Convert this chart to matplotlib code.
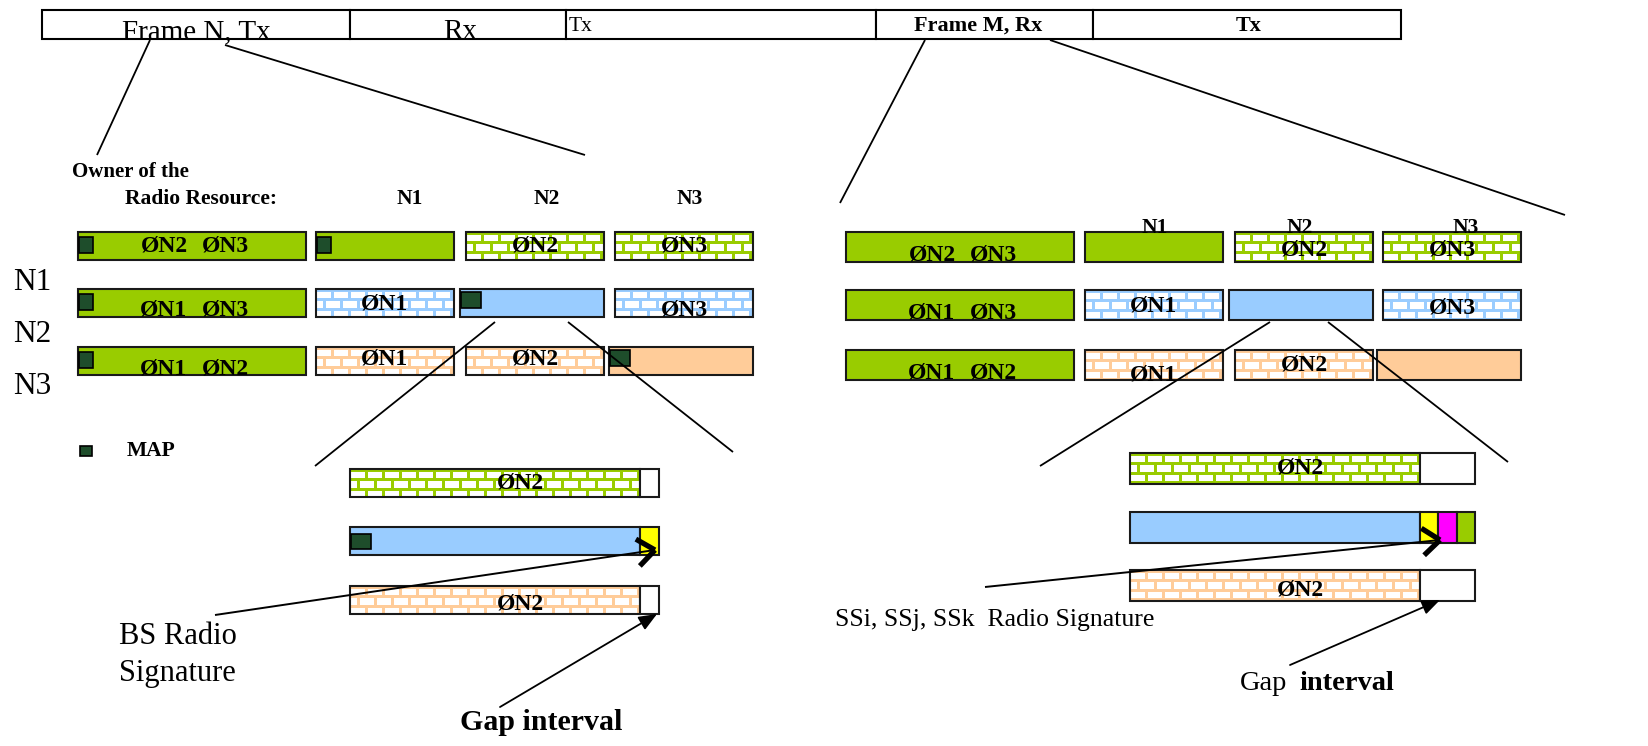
import matplotlib
matplotlib.use('Agg')
import numpy as np
import matplotlib.pyplot as plt
from matplotlib.patches import Rectangle, FancyArrowPatch
from matplotlib.collections import PatchCollection

plt.rcParams['font.family'] = ['Liberation Serif', 'DejaVu Serif']

# ---------- content ----------
frame_cells = ['Frame N, Tx', 'Rx', 'Tx', 'Frame M, Rx', 'Tx']
frame_edges = [42, 350, 566, 876, 1093, 1401]
row_names = ['N1', 'N2', 'N3']
owners = ['N1', 'N2', 'N3']
node_colors = ['#99CC00', '#99CCFF', '#FFCC99']
first_col_labels = [['ØN2', 'ØN3'], ['ØN1', 'ØN3'], ['ØN1', 'ØN2']]
cell_labels = [['', 'ØN2', 'ØN3'],
               ['ØN1', '', 'ØN3'],
               ['ØN1', 'ØN2', '']]
signature_colors = ['#FFFF00', '#FF00FF', '#99CC00']
map_color = '#1E4D2B'

fig = plt.figure(figsize=(16.48, 7.46), dpi=100)
ax = fig.add_axes([0, 0, 1, 1])
ax.set_xlim(0, 1648)
ax.set_ylim(746, 0)
ax.axis('off')

EDGE = '#1a1a1a'


def solid_box(x, y, w, h, color, lw=1.5):
    ax.add_patch(Rectangle((x, y), w, h, facecolor=color, edgecolor=EDGE, lw=lw))


def brick_box(x, y, w, h, color, bw=17, rh=9.3, gap=3.0):
    ax.add_patch(Rectangle((x, y), w, h, facecolor=color, edgecolor='none'))
    clip = Rectangle((x, y), w, h, transform=ax.transData)
    bricks = []
    yy = y + gap
    k = 0
    while yy < y + h:
        xx = x + (0 if k % 2 == 0 else -bw / 2) + gap / 2
        while xx < x + w:
            bricks.append(Rectangle((xx, yy), bw - gap, rh - gap))
            xx += bw
        yy += rh
        k += 1
    pc = PatchCollection(bricks, facecolor='white', edgecolor='none')
    pc.set_clip_path(clip)
    ax.add_collection(pc)
    ax.add_patch(Rectangle((x, y), w, h, facecolor='none', edgecolor=EDGE, lw=1.5))


def map_mark(x, y, w=14, h=16):
    ax.add_patch(Rectangle((x, y), w, h, facecolor=map_color, edgecolor='black', lw=1.2))


def line(p, q, lw=1.3):
    ax.plot([p[0], q[0]], [p[1], q[1]], color='black', lw=lw, solid_capstyle='butt')


def open_arrow(p, q, size=22, ang=38):
    line(p, q, lw=1.4)
    d = np.array(q, float) - np.array(p, float)
    d /= np.hypot(*d)
    for s in (1, -1):
        a = np.radians(s * ang)
        r = np.array([d[0] * np.cos(a) - d[1] * np.sin(a),
                      d[0] * np.sin(a) + d[1] * np.cos(a)])
        e = np.array(q) - size * r
        ax.plot([q[0], e[0]], [q[1], e[1]], color='black', lw=3.8,
                solid_capstyle='butt')


def filled_arrow(p, q):
    ax.add_patch(FancyArrowPatch(p, q, arrowstyle='-|>,head_length=11,head_width=4.5',
                                 mutation_scale=1, lw=1.3, color='black',
                                 shrinkA=0, shrinkB=0))


def label(x, y, s, size=17, weight='bold', ha='center', va='center'):
    ax.text(x, y, s, fontsize=size, fontweight=weight, ha=ha, va=va)


# ---------- frame bar ----------
for i in range(len(frame_cells)):
    x0, x1 = frame_edges[i], frame_edges[i + 1]
    ax.add_patch(Rectangle((x0, 10), x1 - x0, 29, facecolor='white',
                           edgecolor='black', lw=1.5))
ax.text(196, 39, frame_cells[0], fontsize=21, ha='center', va='baseline')
ax.text(460, 39, frame_cells[1], fontsize=21, ha='center', va='baseline')
ax.text(569, 31, frame_cells[2], fontsize=15.5, ha='left', va='baseline')
ax.text(978, 31, frame_cells[3], fontsize=16, fontweight='bold', ha='center', va='baseline')
ax.text(1249, 31, frame_cells[4], fontsize=16, fontweight='bold', ha='center', va='baseline')

line((150, 40), (97, 155))
line((225, 45), (585, 155))
line((925, 40), (840, 203))
line((1050, 40), (1565, 215))

# ---------- left panel ----------
ax.text(72, 172, 'Owner of the', fontsize=15, fontweight='bold', ha='left', va='center')
ax.text(125, 199, 'Radio Resource:', fontsize=15.5, fontweight='bold', ha='left', va='center')
for x, o in zip([410, 547, 690], owners):
    ax.text(x, 199, o, fontsize=15.5, fontweight='bold', ha='center', va='center')

for y, n in zip([283, 335, 387], row_names):
    ax.text(13, y, n, fontsize=22.5, ha='left', va='center')


def panel(x0, col_x, row_y, h, first_w, cell_w, dy_first, dy_cells, with_map):
    for r in range(3):
        y = row_y[r]
        solid_box(x0, y, first_w, h, node_colors[0])
        if with_map:
            map_mark(x0 + 1, y + 5)
        a, b = first_col_labels[r]
        label(x0 + first_w / 2 - 28, y + h / 2 + dy_first[r], a)
        label(x0 + first_w / 2 + 33, y + h / 2 + dy_first[r], b)
        for c in range(3):
            cx = col_x[c]
            if c == r:
                sx = cx if c == 0 else cx - 6
                solid_box(sx, y, cell_w + (cx - sx), h, node_colors[r])
                if with_map:
                    map_mark(sx + 1, y + 5 if c == 0 else y + 3, w=14 if c == 0 else 20)
            else:
                brick_box(cx, y, cell_w, h, node_colors[r])
                label(cx + cell_w / 2, y + h / 2 + dy_cells[r][c], cell_labels[r][c])


panel(78, [316, 466, 615], [232, 289, 347], 28, 228, 138,
      [0, 7, 8], [[0, 0, 0], [1, 0, 7], [-2, -2, 0]], True)

# legend
map_mark(80, 446, w=12, h=10)
ax.text(127, 451, 'MAP', fontsize=15.5, fontweight='bold', ha='left', va='center')

# zoom lines
line((495, 322), (315, 466))
line((568, 322), (733, 452))


def zoom_panel(x0, ys, main_w, h, tail_w, sig_colors, with_map, dy_text):
    brick_box(x0, ys[0], main_w, h, node_colors[0])
    ax.add_patch(Rectangle((x0 + main_w, ys[0]), tail_w, h, facecolor='white', edgecolor=EDGE, lw=1.5))
    label(x0 + main_w / 2 + 25, ys[0] + h / 2 + dy_text, 'ØN2')
    solid_box(x0, ys[1], main_w, h, node_colors[1])
    seg = tail_w / len(sig_colors)
    for i, col in enumerate(sig_colors):
        solid_box(x0 + main_w + i * seg, ys[1], seg, h, col)
    if with_map:
        map_mark(x0 + 1, ys[1] + 7, w=20, h=15)
    brick_box(x0, ys[2], main_w, h, node_colors[2])
    ax.add_patch(Rectangle((x0 + main_w, ys[2]), tail_w, h, facecolor='white', edgecolor=EDGE, lw=1.5))
    label(x0 + main_w / 2 + 25, ys[2] + h / 2 + dy_text + 4, 'ØN2')


zoom_panel(350, [469, 527, 586], 290, 28, 19, signature_colors[:1], True, 0)

open_arrow((215, 615), (655, 550))
ax.text(119, 637, 'BS Radio', fontsize=22, ha='left', va='center')
ax.text(119, 673, 'Signature', fontsize=22, ha='left', va='center')
filled_arrow((500, 707), (657, 614))
ax.text(541, 722, 'Gap interval', fontsize=21.5, fontweight='bold', ha='center', va='center')

# ---------- right panel ----------
panel(846, [1085, 1235, 1383], [232, 290, 350], 30, 228, 138,
      [8, 8, 8], [[0, 3, 3], [1, 0, 3], [10, 0, 0]], False)
for x, o in zip([1155, 1300, 1466], owners):
    ax.text(x, 228, o, fontsize=15.5, fontweight='bold', ha='center', va='center')

line((1270, 322), (1040, 466))
line((1328, 322), (1508, 462))

zoom_panel(1130, [453, 512, 570], 290, 31, 55, signature_colors, False, 0)

open_arrow((985, 587), (1440, 540))
ax.text(835, 620, 'SSi, SSj, SSk  Radio Signature', fontsize=18.5, ha='left', va='center')
filled_arrow((1290, 665), (1440, 600))
ax.text(1240, 683, 'Gap', fontsize=20.5, ha='left', va='center')
ax.text(1299, 683, 'interval', fontsize=20.5, fontweight='bold', ha='left', va='center')

fig.savefig('out.png', dpi=100)
